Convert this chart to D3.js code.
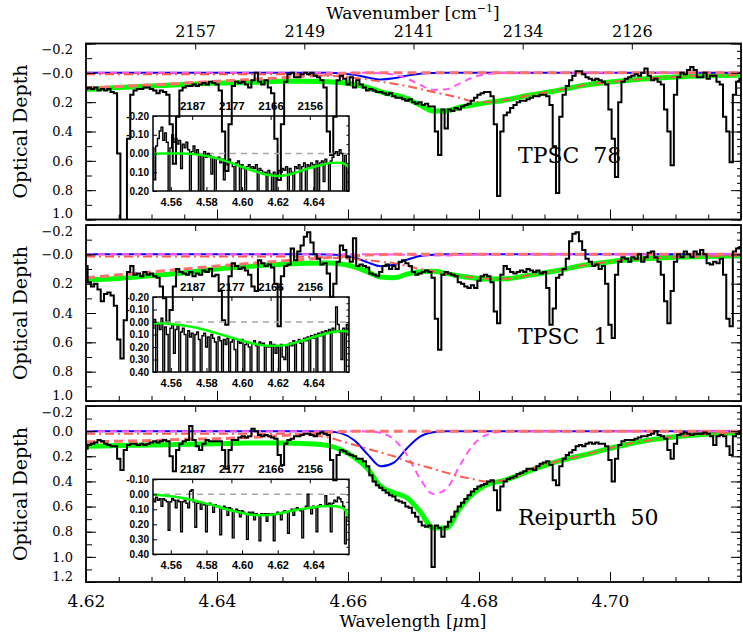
<!DOCTYPE html>
<html>
<head>
<meta charset="utf-8">
<script src="https://cdn.jsdelivr.net/npm/d3@7"></script>
<style>
  body { margin: 0; background: #fff; }
  svg { display: block; }
</style>
</head>
<body>
<svg width="743" height="636"></svg>
<script>
// spectra: optical depth sampled every 0.0005 um from 4.620 to 4.720
let spec1 = [0.11,0.10,0.11,0.10,0.12,0.11,0.12,0.11,0.13,0.14,
  0.55,1.10,1.10,0.45,0.15,0.12,0.11,0.11,0.10,0.10,
  0.11,0.12,0.14,0.12,0.13,0.15,0.35,0.62,0.30,0.12,
  0.10,0.09,0.09,0.08,0.09,0.08,0.07,0.08,0.06,0.07,
  0.08,0.12,0.40,0.67,0.35,0.09,0.06,0.07,0.06,0.08,
  0.10,0.05,0.00,0.06,0.08,0.05,0.10,0.14,0.45,0.73,
  0.35,0.06,0.01,0.00,0.03,0.03,0.01,0.00,0.01,0.00,
  0.02,0.03,0.05,0.10,0.40,0.56,0.30,0.05,0.02,0.04,
  0.08,0.03,0.10,0.05,0.08,0.10,0.12,0.11,0.12,0.13,
  0.13,0.14,0.15,0.14,0.16,0.17,0.17,0.18,0.19,0.18,
  0.20,0.21,0.20,0.22,0.21,0.23,0.23,0.40,0.56,0.25,
  0.38,0.25,0.26,0.24,0.25,0.23,0.22,0.21,0.19,0.17,
  0.15,0.14,0.13,0.13,0.16,0.35,0.84,0.40,0.29,0.27,
  0.24,0.22,0.20,0.19,0.19,0.18,0.17,0.16,0.16,0.15,
  0.15,0.16,0.22,0.50,0.82,0.30,0.15,0.09,0.05,0.02,
  -0.01,-0.01,0.01,0.03,0.04,0.05,0.04,0.05,0.06,0.08,
  0.25,0.45,0.71,0.20,0.06,0.04,0.03,0.02,0.01,0.02,
  0.00,-0.03,0.02,0.05,0.04,0.06,0.08,0.25,0.40,0.63,
  0.15,0.03,0.00,0.01,-0.02,-0.04,-0.02,0.03,0.03,0.00,
  0.04,0.02,0.02,0.06,0.08,0.30,0.40,0.61,0.15,0.06,
  0.04];

let spec2 = [0.08,0.19,0.22,0.20,0.24,0.32,0.27,0.26,0.28,0.35,
  0.58,0.71,0.45,0.12,0.08,0.14,0.13,0.15,0.12,0.14,
  0.13,0.15,0.16,0.22,0.30,0.46,0.38,0.22,0.10,0.12,
  0.13,0.14,0.12,0.15,0.13,0.14,0.11,0.12,0.10,0.15,
  0.14,0.25,0.45,0.48,0.15,0.06,0.08,0.10,0.09,0.11,
  0.14,0.22,0.25,0.04,0.06,0.08,0.07,0.09,0.20,0.49,
  0.15,0.08,0.07,-0.04,0.04,-0.02,-0.06,-0.12,-0.15,-0.08,
  0.00,0.03,0.07,0.06,0.13,0.29,0.20,0.05,-0.06,-0.03,
  0.02,0.05,-0.11,0.08,0.07,0.08,0.09,0.13,0.14,0.15,
  0.12,0.08,0.07,0.10,0.08,0.10,0.05,0.04,0.06,0.08,
  0.12,0.14,0.13,0.12,0.11,0.12,0.16,0.44,0.65,0.14,
  0.12,0.13,0.14,0.15,0.19,0.20,0.22,0.23,0.21,0.23,
  0.18,0.15,0.14,0.15,0.19,0.39,0.47,0.14,0.08,0.10,
  0.12,0.13,0.12,0.11,0.12,0.10,0.11,0.12,0.11,0.13,
  0.12,0.23,0.48,0.37,0.16,0.14,0.10,0.03,-0.09,-0.14,
  -0.15,-0.09,-0.03,0.03,0.05,0.08,0.07,0.10,0.08,0.20,
  0.48,0.57,0.14,0.05,0.02,0.03,0.05,0.02,0.03,0.00,
  0.05,0.02,-0.01,-0.02,0.02,0.05,0.14,0.32,0.47,0.25,
  0.05,0.00,0.02,-0.02,0.00,0.02,-0.02,0.00,-0.03,0.00,
  0.06,0.07,0.05,0.06,0.03,0.14,0.44,0.49,-0.02,-0.04,
  -0.05];

let spec3 = [0.14,0.11,0.10,0.09,0.07,0.08,0.10,0.11,0.12,0.12,
  0.22,0.31,0.15,0.11,0.10,0.10,0.11,0.10,0.11,0.10,
  0.09,0.08,0.09,0.08,0.07,0.08,0.20,0.32,0.15,0.10,
  0.08,0.07,-0.04,0.07,0.12,0.15,0.10,0.07,0.08,0.08,
  0.08,0.08,0.15,0.30,0.15,0.07,0.07,0.05,0.04,0.05,
  0.04,-0.02,0.00,0.03,0.04,0.03,0.04,0.05,0.06,0.19,
  0.27,0.10,0.07,0.06,0.04,0.04,0.03,0.02,0.02,0.03,
  0.04,0.02,0.01,0.02,0.03,0.23,0.39,0.19,0.15,0.16,
  0.18,0.19,0.20,0.22,0.22,0.24,0.28,0.35,0.40,0.43,
  0.45,0.47,0.49,0.51,0.52,0.55,0.56,0.57,0.60,0.61,
  0.65,0.68,0.72,0.75,0.76,0.75,1.08,0.75,0.77,0.84,
  0.76,0.72,0.68,0.64,0.60,0.57,0.54,0.51,0.48,0.46,
  0.44,0.43,0.42,0.40,0.39,0.47,0.63,0.44,0.40,0.38,
  0.37,0.36,0.34,0.33,0.32,0.30,0.30,0.31,0.28,0.26,
  0.25,0.24,0.27,0.39,0.43,0.28,0.22,0.19,0.17,0.15,
  0.12,0.11,0.12,0.10,0.09,0.10,0.09,0.10,0.10,0.12,
  0.23,0.40,0.22,0.11,0.08,0.07,0.07,0.07,0.06,0.05,
  0.04,0.04,0.03,0.02,0.00,0.03,0.04,0.06,0.15,0.22,
  0.10,0.03,0.02,0.01,0.02,0.03,0.02,0.02,0.02,0.01,
  0.02,0.04,0.11,0.04,0.03,0.04,0.12,0.19,0.04,0.02,
  0.00];

// fit components on an uneven wavelength grid
let modelWave = [4.620,4.625,4.630,4.635,4.640,4.645,4.650,4.654,4.657,4.659,
  4.661,4.663,4.665,4.667,4.669,4.671,4.673,4.675,4.677,4.679,
  4.681,4.684,4.688,4.692,4.696,4.700,4.705,4.710,4.715,4.720];

let green1 = [0.113,0.10,0.09,0.08,0.07,0.065,0.058,0.057,0.06,0.066,
  0.08,0.10,0.13,0.15,0.175,0.22,0.26,0.26,0.235,0.22,
  0.205,0.185,0.15,0.12,0.085,0.063,0.042,0.028,0.02,0.015];
let blue1 = [0,0,0,0,0,0,0,0,0,0.004,
  0.014,0.032,0.045,0.037,0.019,0.006,0.001,0,0,0,
  0,0,0,0,0,0,0,0,0,0];
let mag1 = [0,0,0,0,0,0,0,0,0,0,
  0,0,0.002,0.013,0.039,0.082,0.116,0.112,0.073,0.032,
  0.01,0.001,0,0,0,0,0,0,0,0];
let dd1 = [0.01,0.01,0.01,0.01,0.01,0.01,0.01,0.015,0.02,0.025,
  0.035,0.045,0.06,0.075,0.09,0.11,0.13,0.15,0.17,0.195,
  0.20,0.185,0.15,0.12,0.085,0.063,0.042,0.028,0.02,0.015];
let ocn1 = [0.105,0.093,0.082,0.07,0.057,0.045,0.033,0.022,0.012,0.005,
  0.001,0,0,0,0,0,0,0,0,0,
  0,0,0,0,0,0,0,0,0,0];

let green2 = [0.175,0.165,0.145,0.125,0.10,0.082,0.068,0.06,0.059,0.066,
  0.085,0.12,0.155,0.16,0.135,0.118,0.115,0.13,0.148,0.16,
  0.168,0.167,0.14,0.11,0.075,0.05,0.03,0.02,0.014,0.011];
let blue2 = [0,0,0,0,0,0,0,0,0.001,0.006,
  0.022,0.055,0.081,0.071,0.037,0.012,0.002,0,0,0,
  0,0,0,0,0,0,0,0,0,0];
let mag2 = [0,0,0,0,0,0,0,0,0,0,
  0,0,0,0.001,0.003,0.006,0.008,0.008,0.005,0.002,
  0,0,0,0,0,0,0,0,0,0];
let dd2 = [0.015,0.015,0.015,0.015,0.015,0.015,0.015,0.018,0.022,0.026,
  0.032,0.04,0.05,0.06,0.08,0.10,0.115,0.13,0.145,0.158,
  0.166,0.167,0.14,0.11,0.075,0.05,0.03,0.02,0.014,0.011];
let ocn2 = [0.16,0.14,0.12,0.10,0.08,0.062,0.045,0.032,0.022,0.016,
  0.01,0.005,0.002,0,0,0,0,0,0,0,
  0,0,0,0,0,0,0,0,0,0];

let green3 = [0.12,0.115,0.11,0.105,0.10,0.095,0.095,0.10,0.115,0.15,
  0.21,0.30,0.44,0.49,0.53,0.64,0.77,0.77,0.62,0.50,
  0.43,0.39,0.31,0.24,0.19,0.137,0.08,0.045,0.023,0.012];
let blue3 = [0,0,0,0,0,0,0,0,0.003,0.018,
  0.074,0.185,0.28,0.25,0.136,0.044,0.009,0,0,0,
  0,0,0,0,0,0,0,0,0,0];
let mag3 = [0,0,0,0,0,0,0,0,0,0,
  0,0.002,0.015,0.065,0.19,0.377,0.50,0.46,0.28,0.116,
  0.033,0.002,0,0,0,0,0,0,0,0];
let dd3 = [0.02,0.02,0.02,0.02,0.02,0.02,0.02,0.03,0.05,0.08,
  0.11,0.14,0.17,0.20,0.24,0.27,0.30,0.33,0.36,0.38,
  0.40,0.39,0.30,0.24,0.19,0.135,0.08,0.045,0.023,0.012];
let ocn3 = [0.085,0.08,0.075,0.065,0.06,0.05,0.035,0.02,0.01,0.005,
  0,0,0,0,0,0,0,0,0,0,
  0,0,0,0,0,0,0,0,0,0];

// inset spectra: every 0.001 um from 4.550 to 4.660
let inset1 = [-0.03,0.14,-0.04,-0.08,-0.12,-0.14,-0.07,-0.11,-0.06,0.25,
  -0.03,-0.10,-0.06,-0.08,-0.05,-0.07,0.08,-0.05,-0.03,-0.06,
  -0.02,0.25,-0.01,-0.04,0.00,-0.02,0.25,0.01,0.25,-0.01,
  0.02,0.00,0.01,0.11,0.02,0.25,0.03,0.02,0.05,0.03,
  0.14,0.04,0.06,0.03,0.05,0.07,0.25,0.05,0.04,0.25,
  0.06,0.08,0.25,0.07,0.06,0.09,0.07,0.08,0.06,0.25,
  0.08,0.09,0.11,0.10,0.25,0.09,0.11,0.25,0.10,0.25,
  0.11,0.09,0.10,0.08,0.09,0.07,0.25,0.08,0.10,0.25,
  0.07,0.08,0.06,0.25,0.07,0.05,0.25,0.06,0.07,0.05,
  0.06,0.25,0.04,0.25,0.05,0.04,0.15,0.03,0.05,0.25,
  0.04,0.02,0.00,-0.01,0.01,-0.02,0.00,0.25,0.01,0.25,
  0.06];
let inset2 = [0.05,-0.02,0.45,0.02,0.06,-0.03,0.45,0.04,0.10,0.45,
  0.05,0.02,0.25,0.06,0.03,0.45,0.08,0.05,0.10,0.45,
  0.07,0.12,0.09,0.40,0.10,0.08,0.14,0.45,0.11,0.09,
  0.20,0.12,0.45,0.10,0.13,0.16,0.45,0.12,0.15,0.45,
  0.14,0.18,0.13,0.45,0.16,0.14,0.22,0.45,0.15,0.17,
  0.14,0.45,0.18,0.16,0.20,0.45,0.17,0.15,0.19,0.45,
  0.16,0.18,0.17,0.45,0.19,0.20,0.16,0.45,0.18,0.25,
  0.20,0.45,0.18,0.28,0.30,0.20,0.45,0.17,0.19,0.15,
  0.45,0.16,0.14,0.17,0.45,0.13,0.15,0.12,0.45,0.11,
  0.13,0.10,0.45,0.09,0.11,0.08,0.45,0.07,0.09,0.06,
  0.45,0.05,0.08,-0.12,0.02,0.08,0.30,0.05,0.45,0.02,
  0.10];
let inset3 = [0.03,0.05,0.02,0.04,0.03,0.08,0.03,0.04,0.05,0.24,
  0.05,0.03,0.04,0.09,0.04,0.05,0.25,0.05,0.04,0.06,
  0.09,-0.02,-0.03,0.05,0.22,0.06,0.05,0.10,0.06,0.07,
  0.25,0.07,0.06,0.07,0.12,0.07,0.08,0.08,0.27,0.09,
  0.08,0.09,0.14,0.09,0.10,0.29,0.11,0.10,0.11,0.15,
  0.11,0.12,0.13,0.30,0.12,0.13,0.12,0.17,0.13,0.14,
  0.31,0.13,0.14,0.13,0.18,0.13,0.14,0.13,0.31,0.13,
  0.12,0.13,0.17,0.12,0.11,0.12,0.26,0.11,0.10,0.14,
  0.10,0.09,0.10,0.11,0.29,0.10,0.08,0.00,0.09,0.13,
  0.08,0.09,0.25,0.08,0.07,0.08,0.08,0.01,0.07,0.06,
  0.25,0.06,0.04,0.05,0.02,0.03,0.05,0.08,0.33,0.15,
  0.18];

let insetModelWave = [4.550,4.555,4.560,4.565,4.570,4.575,4.580,4.585,4.590,4.595,
  4.600,4.605,4.610,4.615,4.620,4.625,4.630,4.635,4.640,4.645,
  4.650,4.655,4.658,4.660];
let insetGreen1 = [0.003,0.0,0.0,0.0,0.002,0.006,0.013,0.024,0.038,0.054,
  0.072,0.088,0.104,0.115,0.12,0.115,0.102,0.086,0.072,0.06,
  0.05,0.049,0.058,0.074];
let insetGreen2 = [0.009,0.011,0.016,0.024,0.035,0.048,0.066,0.087,0.108,0.129,
  0.15,0.168,0.183,0.19,0.19,0.183,0.165,0.144,0.12,0.10,
  0.082,0.071,0.074,0.082];
let insetGreen3 = [0.002,0.007,0.013,0.022,0.033,0.047,0.062,0.078,0.096,0.111,
  0.124,0.136,0.14,0.138,0.129,0.118,0.104,0.096,0.087,0.08,
  0.078,0.084,0.107,0.173];

// axes
let yTicks12 = [-0.2,0.0,0.2,0.4,0.6,0.8,1.0];
let yLabels12 = ["\u22120.2","\u22120.0","0.2","0.4","0.6","0.8","1.0"];
let yTicks3 = [-0.2,0.0,0.2,0.4,0.6,0.8,1.0,1.2];
let yLabels3 = ["\u22120.2","0.0","0.2","0.4","0.6","0.8","1.0","1.2"];
let xTicks = [4.62,4.64,4.66,4.68,4.70];
let wnTickWave = [4.63667,4.65333,4.67,4.68667,4.70333];
let wnLabels = ["2157","2149","2141","2134","2126"];
let insetXTicks = [4.56,4.58,4.60,4.62,4.64];
let insetWnWave = [4.572,4.594,4.616,4.638];
let insetWnLabels = ["2187","2177","2166","2156"];
let insetYTicks1 = [-0.2,-0.1,0.0,0.1,0.2];
let insetYTicks2 = [-0.2,-0.1,0.0,0.1,0.2,0.3,0.4];
let insetYTicks3 = [-0.1,0.0,0.1,0.2,0.3,0.4];
let names = ["TPSC  78","TPSC  1","Reipurth  50"];

let serif = "DejaVu Serif";
let sans = "Liberation Sans";
let svg = d3.select("svg");
let panelTops = [43.5, 225, 406];
let PH = 176;
let x = d3.scaleLinear().domain([4.62, 4.72]).range([86, 741]);
let xi = d3.scaleLinear().domain([4.55, 4.66]).range([153, 349]);
let specWave = d3.range(201).map(i => 4.62 + i * 0.0005);
let insetWave = d3.range(111).map(i => 4.55 + i * 0.001);

let panels = [
  {spec: spec1, green: green1, blue: blue1, mag: mag1, dd: dd1, ocn: ocn1, yDom: [-0.2, 1.0],
   yTicks: yTicks12, yLabels: yLabels12, inset: inset1, insetGreen: insetGreen1,
   insetDom: [-0.2, 0.2], insetTicks: insetYTicks1, insetTop: 116, labelY: 163},
  {spec: spec2, green: green2, blue: blue2, mag: mag2, dd: dd2, ocn: ocn2, yDom: [-0.2, 1.0],
   yTicks: yTicks12, yLabels: yLabels12, inset: inset2, insetGreen: insetGreen2,
   insetDom: [-0.2, 0.4], insetTicks: insetYTicks2, insetTop: 297, labelY: 344},
  {spec: spec3, green: green3, blue: blue3, mag: mag3, dd: dd3, ocn: ocn3, yDom: [-0.2, 1.2],
   yTicks: yTicks3, yLabels: yLabels3, inset: inset3, insetGreen: insetGreen3,
   insetDom: [-0.1, 0.4], insetTicks: insetYTicks3, insetTop: 479.3, labelY: 525}
];

function styleAxis(g, family, size, weight) {
  g.select(".domain").remove();
  g.attr("font-family", family).attr("font-size", size).attr("font-weight", weight || "normal");
  g.selectAll(".tick line").attr("stroke", "#000");
}

panels.forEach((p, k) => {
  let top = panelTops[k], bottom = top + PH;
  let y = d3.scaleLinear().domain(p.yDom).range([top, bottom]);
  let clipId = "clip" + k;
  svg.append("clipPath").attr("id", clipId)
    .append("rect").attr("x", 86).attr("y", top).attr("width", 655).attr("height", PH);

  let plot = svg.append("g").attr("clip-path", "url(#" + clipId + ")");
  let curve = (arr, wave, xs, ys, c) => d3.line()
    .x((d, i) => xs(wave[i])).y(d => ys(d)).curve(c)(arr);

  plot.append("path").attr("d", curve(p.green, modelWave, x, y, d3.curveMonotoneX))
    .attr("fill", "none").attr("stroke", "#00ff00").attr("stroke-width", 5);
  plot.append("path").attr("d", curve(p.blue, modelWave, x, y, d3.curveMonotoneX))
    .attr("fill", "none").attr("stroke", "#0000ff").attr("stroke-width", 2);
  plot.append("path").attr("d", curve(p.mag, modelWave, x, y, d3.curveMonotoneX))
    .attr("fill", "none").attr("stroke", "#ff55ff").attr("stroke-width", 2)
    .attr("stroke-dasharray", "7,5");
  plot.append("path").attr("d", curve(p.dd, modelWave, x, y, d3.curveMonotoneX))
    .attr("fill", "none").attr("stroke", "#ff5a50").attr("stroke-width", 2)
    .attr("stroke-dasharray", "9,4,2,4");
  plot.append("path").attr("d", curve(p.ocn, modelWave, x, y, d3.curveMonotoneX))
    .attr("fill", "none").attr("stroke", "#ff7070").attr("stroke-width", 3)
    .attr("stroke-dasharray", "9,5");
  plot.append("path").attr("d", curve(p.spec, specWave, x, y, d3.curveStep))
    .attr("fill", "none").attr("stroke", "#000").attr("stroke-width", 2)
    .attr("stroke-linejoin", "miter");

  // frame
  svg.append("rect").attr("x", 86).attr("y", top).attr("width", 655).attr("height", PH)
    .attr("fill", "none").attr("stroke", "#000").attr("stroke-width", 1.8);

  // left axis
  let left = svg.append("g").attr("transform", "translate(86,0)")
    .call(d3.axisLeft(y).tickValues(p.yTicks).tickSize(-10).tickPadding(13)
      .tickFormat((d, i) => p.yLabels[i]));
  styleAxis(left, serif, 13);
  left.selectAll(".tick text").attr("y", d => {
    let ty = y(d);
    return Math.max(top + 6, Math.min(bottom - 6, ty)) - ty;
  });
  let minorY = d3.range(Math.round(p.yDom[0] * 10), Math.round(p.yDom[1] * 10) + 1).map(v => v / 10);
  styleAxis(svg.append("g").attr("transform", "translate(86,0)")
    .call(d3.axisLeft(y).tickValues(minorY).tickSize(-6).tickFormat("")), serif, 13);

  // right axis
  let minorY5 = d3.range(Math.round(p.yDom[0] * 20), Math.round(p.yDom[1] * 20) + 1).map(v => v / 20);
  styleAxis(svg.append("g").attr("transform", "translate(741,0)")
    .call(d3.axisRight(y).tickValues(p.yTicks).tickSize(-10).tickFormat("")), serif, 13);
  styleAxis(svg.append("g").attr("transform", "translate(741,0)")
    .call(d3.axisRight(y).tickValues(minorY5).tickSize(-4).tickFormat("")), serif, 13);

  // bottom axis
  let bottomAxis = svg.append("g").attr("transform", "translate(0," + bottom + ")")
    .call(d3.axisBottom(x).tickValues(xTicks).tickSize(-10).tickPadding(13)
      .tickFormat(k === 2 ? d3.format(".2f") : ""));
  styleAxis(bottomAxis, serif, 17);
  let minorX = d3.range(0, 21).map(i => 4.62 + i * 0.005);
  styleAxis(svg.append("g").attr("transform", "translate(0," + bottom + ")")
    .call(d3.axisBottom(x).tickValues(minorX).tickSize(-5).tickFormat("")), serif, 13);

  // top axis (wavenumber)
  let topAxis = svg.append("g").attr("transform", "translate(0," + top + ")")
    .call(d3.axisTop(x).tickValues(wnTickWave).tickSize(-6).tickPadding(7)
      .tickFormat((d, i) => k === 0 ? wnLabels[i] : ""));
  styleAxis(topAxis, serif, 16);

  // y title
  svg.append("text")
    .attr("transform", "translate(27," + (top + PH / 2) + ") rotate(-90)")
    .attr("text-anchor", "middle").attr("font-family", serif).attr("font-size", 19)
    .text("Optical Depth");

  // source name
  svg.append("text").attr("x", 518).attr("y", p.labelY)
    .attr("font-family", serif).attr("font-size", 22)
    .attr("xml:space", "preserve").style("white-space", "pre")
    .text(names[k]);

  // inset
  let itop = p.insetTop, ibot = itop + 75;
  let yi = d3.scaleLinear().domain(p.insetDom).range([itop, ibot]);
  let iclip = "iclip" + k;
  svg.append("clipPath").attr("id", iclip)
    .append("rect").attr("x", 153).attr("y", itop).attr("width", 196).attr("height", 75);
  let iplot = svg.append("g").attr("clip-path", "url(#" + iclip + ")");
  iplot.append("line").attr("x1", 153).attr("x2", 349).attr("y1", yi(0)).attr("y2", yi(0))
    .attr("stroke", "#a8a8a8").attr("stroke-width", 1.5).attr("stroke-dasharray", "6,5");
  iplot.append("path").attr("d", curve(p.inset, insetWave, xi, yi, d3.curveStep))
    .attr("fill", "none").attr("stroke", "#000").attr("stroke-width", 1.4);
  iplot.append("path").attr("d", curve(p.insetGreen, insetModelWave, xi, yi, d3.curveMonotoneX))
    .attr("fill", "none").attr("stroke", "#00ff00").attr("stroke-width", 2.5);
  svg.append("rect").attr("x", 153).attr("y", itop).attr("width", 196).attr("height", 75)
    .attr("fill", "none").attr("stroke", "#000").attr("stroke-width", 1.5);

  let il = svg.append("g").attr("transform", "translate(153,0)")
    .call(d3.axisLeft(yi).tickValues(p.insetTicks).tickSize(-4).tickPadding(4)
      .tickFormat(d => d3.format(".2f")(d).replace("\u2212", "-")));
  styleAxis(il, sans, 10, "bold");
  let iMinorY = d3.range(Math.round(p.insetDom[0] * 20), Math.round(p.insetDom[1] * 20) + 1).map(v => v / 20);
  styleAxis(svg.append("g").attr("transform", "translate(349,0)")
    .call(d3.axisRight(yi).tickValues(iMinorY).tickSize(-2.5).tickFormat("")), sans, 10);
  let ib = svg.append("g").attr("transform", "translate(0," + ibot + ")")
    .call(d3.axisBottom(xi).tickValues(insetXTicks).tickSize(-4).tickPadding(7)
      .tickFormat(d3.format(".2f")));
  styleAxis(ib, sans, 11, "bold");
  let it = svg.append("g").attr("transform", "translate(0," + itop + ")")
    .call(d3.axisTop(xi).tickValues(insetWnWave).tickSize(-4).tickPadding(6)
      .tickFormat((d, i) => insetWnLabels[i]));
  styleAxis(it, sans, 11.5, "bold");
});

// titles
let wt = svg.append("text").attr("x", 413).attr("y", 19).attr("text-anchor", "middle")
  .attr("font-family", serif).attr("font-size", 17);
wt.append("tspan").text("Wavenumber [cm");
wt.append("tspan").attr("dy", -7).attr("font-size", 11).text("\u22121");
wt.append("tspan").attr("dy", 7).text("]");

let xt = svg.append("text").attr("x", 413).attr("y", 627).attr("text-anchor", "middle")
  .attr("font-family", serif).attr("font-size", 17);
xt.append("tspan").text("Wavelength [");
xt.append("tspan").attr("font-style", "italic").text("\u03bc");
xt.append("tspan").text("m]");
</script>
</body>
</html>
